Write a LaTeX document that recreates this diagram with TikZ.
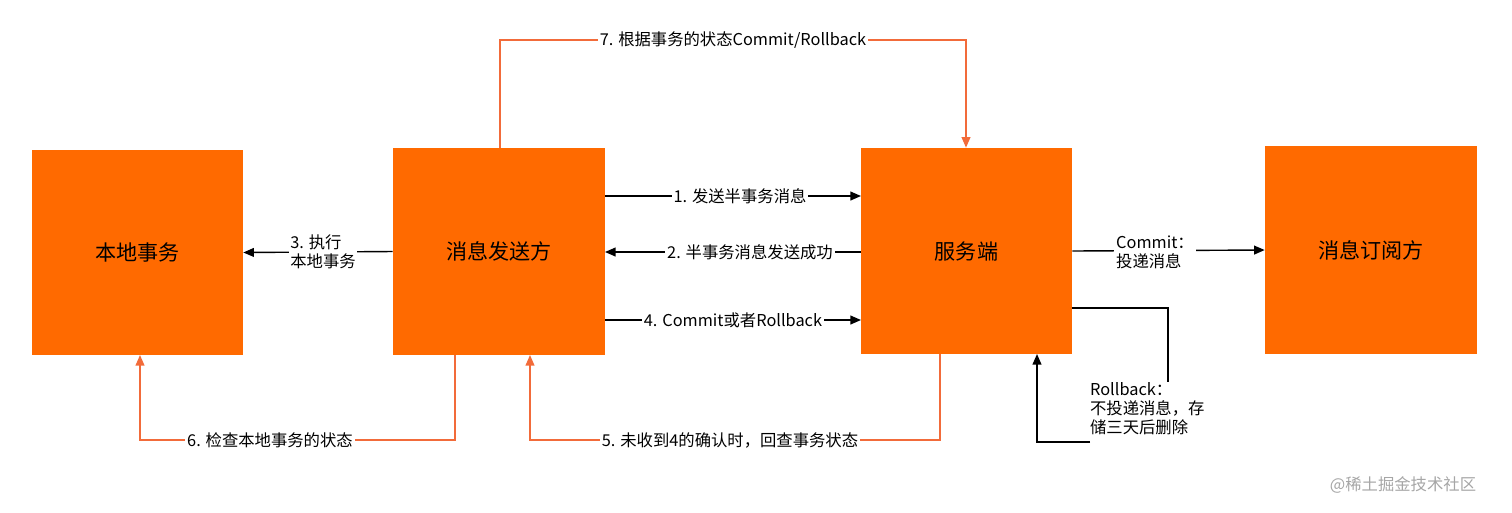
\documentclass[tikz,border=0pt]{standalone}
\usepackage{fontspec}
\setmainfont{Noto Sans CJK SC}
\usetikzlibrary{arrows.meta}
\definecolor{boxor}{HTML}{FF6A00}
\definecolor{lineor}{HTML}{F26B3A}
\begin{document}
\begin{tikzpicture}[x=0.02cm,y=-0.02cm,
  blk/.style={fill=boxor,draw=none,inner sep=0pt,font=\fontsize{12}{14}\selectfont},
  lbl/.style={fill=white,inner sep=1pt,font=\fontsize{9.3}{11}\selectfont,align=left},
  blkarrow/.style={draw=black,line width=0.8pt,-{Triangle[length=6pt,width=5pt]}},
  orarrow/.style={draw=lineor,line width=0.8pt,-{Triangle[length=6pt,width=5pt]}}]
\useasboundingbox (0,0) rectangle (1512,512);
\node[blk,minimum width=4.22cm,minimum height=4.1cm] (loc) at (137.5,252.5) {本地事务};
\node[blk,minimum width=4.24cm,minimum height=4.14cm] (snd) at (499,251.5) {消息发送方};
\node[blk,minimum width=4.22cm,minimum height=4.12cm] (srv) at (966.5,251) {服务端};
\node[blk,minimum width=4.24cm,minimum height=4.16cm] (sub) at (1371,250) {消息订阅方};
% 7
\coordinate (t1) at (500,40); \coordinate (t2) at (966,40);
\draw[orarrow] (snd.north -| t1) -- (t1) -- (t2) -- (srv.north -| t2);
\node[lbl] at (733,40) {7. 根据事务的状态Commit/Rollback};
% 1 2 4
\draw[blkarrow] (605,196) -- (861,196);
\node[lbl] at (740,196) {1. 发送半事务消息};
\draw[blkarrow] (861,252) -- (605,252);
\node[lbl] at (750,252) {2. 半事务消息发送成功};
\draw[blkarrow] (605,320) -- (861,320);
\node[lbl] at (733,320) {4. Commit或者Rollback};
% 3
\draw[blkarrow] (snd.west) -- (loc.east);
\node[lbl] at (323,252) {3. 执行\\本地事务};
% commit
\draw[blkarrow] (srv.east) -- (sub.west);
\node[lbl] at (1155,252) {Commit：\\投递消息};
% rollback
\node[lbl,anchor=north west] (rb) at (1088,380) {Rollback：\\不投递消息，存\\储三天后删除};
\draw[black,line width=0.8pt] (1072,308) -- (1168,308) -- (1168,382);
\coordinate (rbl) at (1090,442);
\draw[blkarrow] (rbl) -- (1037,442) -- (1037,354);
% 6
\draw[orarrow] (455,355) -- (455,440) -- (140,440) -- (140,355);
\node[lbl] at (270,440) {6. 检查本地事务的状态};
% 5
\draw[orarrow] (940,354) -- (940,440) -- (530,440) -- (530,355);
\node[lbl] at (730,440) {5. 未收到4的确认时，回查事务状态};
\node[text=gray!70,font=\fontsize{9.3}{11}\selectfont] at (1403,485) {@稀土掘金技术社区};
\end{tikzpicture}
\end{document}
